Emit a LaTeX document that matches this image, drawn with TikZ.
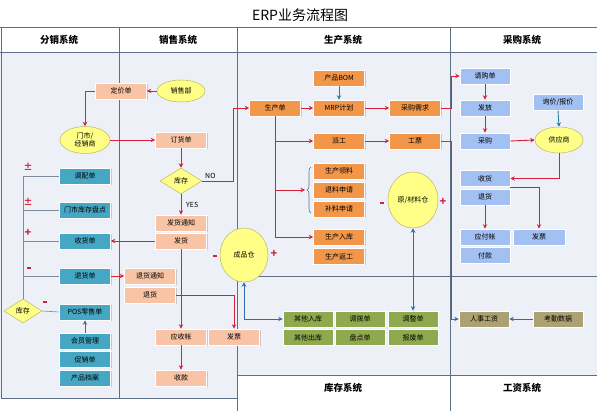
\documentclass[tikz,border=0pt]{standalone}
\usepackage{fontspec}
\setmainfont{Noto Sans CJK SC}
\usetikzlibrary{shapes.geometric,shadows,arrows.meta,decorations.pathreplacing}
\definecolor{sal}{HTML}{F9C4A6}
\definecolor{org}{HTML}{F2974A}
\definecolor{tea}{HTML}{45A7C4}
\definecolor{blu}{HTML}{A3C0F2}
\definecolor{grn}{HTML}{8FAA4E}
\definecolor{kha}{HTML}{ABA172}
\definecolor{yel}{HTML}{FFFF88}
\definecolor{yelb}{HTML}{B8B860}
\definecolor{bg}{HTML}{EDF0F7}
\definecolor{frame}{HTML}{5E6E84}
\definecolor{rln}{HTML}{D2223C}
\definecolor{bln}{HTML}{2D6DAD}
\definecolor{tln}{HTML}{2A7F9E}
\begin{document}
\begin{tikzpicture}[x=1pt,y=-1pt,
  box/.style={rectangle, minimum width=51pt, minimum height=16pt, inner sep=0pt,
    font=\fontsize{7}{8}\selectfont, draw=white, line width=0.6pt,
    drop shadow={opacity=0.35, shadow xshift=1pt, shadow yshift=-1pt}},
  salbox/.style={box, fill=sal},
  orgbox/.style={box, fill=org},
  teabox/.style={box, fill=tea},
  blubox/.style={box, fill=blu},
  grnbox/.style={box, fill=grn, minimum width=50pt},
  khabox/.style={box, fill=kha, minimum width=50pt},
  ell/.style={ellipse, fill=yel, draw=yelb, line width=0.5pt, inner sep=0pt,
    font=\fontsize{7}{8.5}\selectfont, align=center},
  dia/.style={diamond, fill=yel, draw=yelb, line width=0.5pt, inner sep=0pt,
    font=\fontsize{7}{8}\selectfont},
  ra/.style={draw=rln, line width=0.9pt, -{Stealth[length=4.5pt,width=4.5pt]}},
  rl/.style={draw=rln, line width=0.9pt},
  ba/.style={draw=bln, line width=0.9pt, -{Stealth[length=4.5pt,width=4.5pt]}},
  bb/.style={draw=bln, line width=0.9pt, {Stealth[length=4.5pt,width=4.5pt]}-{Stealth[length=4.5pt,width=4.5pt]}},
  gl/.style={draw=frame!80, line width=0.6pt},
  hdr/.style={font=\fontsize{9.5}{10}\selectfont\bfseries},
  sgn/.style={text=rln, font=\fontsize{9}{9}\selectfont\bfseries, inner sep=0pt},
  mns/.style={fill=rln, minimum width=4pt, minimum height=2pt, inner sep=0pt},
  lbl/.style={font=\fontsize{7}{8}\selectfont, inner sep=0pt}
]
\useasboundingbox (0,0) rectangle (597,411);
\fill[white] (0,0) rectangle (597,411);
% body backgrounds
\fill[bg] (0,52) rectangle (237,398);
\fill[bg] (237,52) rectangle (597,375);
% frame lines
\draw[frame, line width=1pt] (0,28) -- (597,28);
\draw[frame, line width=0.7pt] (0,52) -- (597,52);
\draw[frame, line width=0.7pt] (1,28) -- (1,398) -- (237,398);
\draw[frame, line width=0.7pt] (119,28) -- (119,398);
\draw[frame, line width=0.7pt] (237,28) -- (237,411);
\draw[frame, line width=0.7pt] (450,28) -- (450,411);
\draw[frame, line width=0.7pt] (237,276) -- (597,276);
\draw[frame, line width=0.7pt] (237,375) -- (597,375);
% title and headers
\node[font=\fontsize{14}{14}\selectfont] (title) at (300,15) {ERP业务流程图};
\node[hdr] (h1) at (59,40) {分销系统};
\node[hdr] (h2) at (178,40) {销售系统};
\node[hdr] (h3) at (343,40) {生产系统};
\node[hdr] (h4) at (522,40) {采购系统};
\node[hdr] (h5) at (343,388) {库存系统};
\node[hdr] (h6) at (522,388) {工资系统};

% ---- 分销系统 ----
\node[ell, minimum width=50pt, minimum height=27pt] (ms) at (85,140) {门市/\\经销商};
\node[teabox] (dpd) at (85,176) {调配单};
\node[teabox] (mkpd) at (85,210) {门市库存盘点};
\node[teabox] (shd) at (85,241) {收货单};
\node[teabox] (thd) at (85,276) {退货单};
\node[teabox] (pos) at (85,312) {POS零售单};
\node[teabox] (hy) at (85,341) {会员管理};
\node[teabox] (cx) at (85,359.5) {促销单};
\node[teabox] (cpda) at (85,378) {产品档案};
\node[dia, minimum width=38pt, minimum height=24pt] (kc1) at (23,311) {库存};
\coordinate (vtop) at (23,176);
\draw[gl] (vtop) -- (kc1.north);
\draw[gl] (vtop) -- (dpd.west);
\draw[gl] (23,210) -- (mkpd.west);
\draw[gl] (23,241) -- (shd.west);
\draw[gl] (23,276) -- (thd.west);
\draw[gl] (kc1.east) -- (pos.west);
\draw[ba] (hy.north) -- (pos.south);
\node[sgn] (s1) at (28,167) {±};
\node[sgn] (s2) at (28,202) {±};
\node[sgn, font=\fontsize{11}{11}\selectfont\bfseries] (s3) at (28,233) {+};
\node[mns] (s4) at (29,268) {};
\node[mns] (s5) at (45,302) {};

% ---- 销售系统 ----
\node[ell, minimum width=48pt, minimum height=22pt] (xsb) at (181,91) {销售部};
\node[salbox] (djd) at (121,91) {定价单};
\node[salbox] (dhd) at (181,140) {订货单};
\node[dia, minimum width=42pt, minimum height=26pt] (kc2) at (181,181) {库存};
\node[salbox] (fhtz) at (181,223) {发货通知};
\node[salbox] (fh) at (181,241) {发货};
\node[salbox] (thtz) at (150,276) {退货通知};
\node[salbox] (th) at (150,295) {退货};
\node[salbox] (ysz) at (181,337) {应收帐};
\node[salbox] (sk) at (181,378) {收款};
\node[salbox] (fp) at (234,337) {发票};
\draw[ra] (xsb.west) -- (djd.east);
\draw[ra] (djd.west) -| (ms.north);
\draw[ra] (ms.east) -- (dhd.west);
\draw[ra] (dhd.south) -- (kc2.north);
\draw[ra] (kc2.south) -- (fhtz.north);
\node[lbl, anchor=west] (yes) at (186,205) {YES};
\node[lbl, anchor=west] (no) at (205,176) {NO};
\draw[ra] (fh.west) -- (shd.east);
\draw[ra] (fh.south) -- (ysz.north);
\draw[ra] (thd.east) -- (thtz.west);
\draw[ra] (th.east) -| (fp.north);
\draw[ra] (ysz.south) -- (sk.north);

% ---- 成品仓 ----
\node[ell, minimum width=48pt, minimum height=54pt] (cpc) at (244,255) {成品仓};
\node[mns] (s6) at (215,256) {};
\node[sgn, font=\fontsize{11}{11}\selectfont\bfseries] (s7) at (274,254) {+};

% ---- 生产系统 ----
\node[orgbox] (bom) at (339,78) {产品BOM};
\node[orgbox] (mrp) at (339,108) {MRP计划};
\node[orgbox] (scd) at (275,108) {生产单};
\node[orgbox] (cgxq) at (415,108) {采购需求};
\node[orgbox] (pg) at (339,141) {派工};
\node[orgbox] (gp) at (415,141) {工票};
\node[orgbox] (scll) at (339,171) {生产领料};
\node[orgbox] (tlsq) at (339,190) {退料申请};
\node[orgbox] (blsq) at (339,209) {补料申请};
\node[orgbox] (scrk) at (339,237) {生产入库};
\node[orgbox] (scfg) at (339,256.5) {生产返工};
\node[ell, minimum width=50pt, minimum height=56pt] (ylc) at (413,200) {原/材料仓};
\node[mns] (s8) at (382,203) {};
\node[sgn, font=\fontsize{11}{11}\selectfont\bfseries] (s9) at (443,202) {+};

\draw[ra] (kc2.east) -- (233,181) |- (scd.west);
\draw[ra] (scd.east) -- (mrp.west);
\draw[draw=tln, line width=0.9pt, -{Stealth[length=4.5pt,width=4.5pt]}] (bom.south) -- (mrp.north);
\draw[ra] (mrp.east) -- (cgxq.west);
\draw[rl] (scd.south) -- (275,237);
\coordinate (br1) at (275,141);
\coordinate (br2) at (275,190);
\coordinate (br3) at (275,237);
\coordinate (brc) at (305,190);
\draw[ra] (br1) -- (pg.west);
\draw[ra] (br2) -- (brc);
\draw[ra] (br3) -- (scrk.west);
\draw[frame, line width=0.6pt, decorate, decoration={brace, amplitude=4pt}] (311,213) -- (311,167);
\draw[ra] (pg.east) -- (gp.west);

% ---- 采购系统 ----
\node[blubox, minimum width=50pt] (qgd) at (485,76) {请购单};
\node[blubox, minimum width=50pt] (ff) at (485,108) {发放};
\node[blubox, minimum width=50pt] (cg) at (485,141) {采购};
\node[blubox, minimum width=50pt] (xj) at (558,102) {询价/报价};
\node[ell, minimum width=48pt, minimum height=26pt] (gys) at (559,140) {供应商};
\node[blubox, minimum width=50pt] (sh) at (485,178.5) {收货};
\node[blubox, minimum width=50pt] (th2) at (485,197) {退货};
\node[blubox, minimum width=50pt] (yfz) at (485,237) {应付帐};
\node[blubox, minimum width=50pt] (fk) at (485,255.5) {付款};
\node[blubox, minimum width=52pt] (fp2) at (539,237) {发票};
\draw[ra] (cgxq.east) -- (451,108) |- (qgd.west);
\draw[ra] (qgd.south) -- (ff.north);
\draw[ra] (ff.south) -- (cg.north);
\draw[draw=tln, line width=0.9pt, -{Stealth[length=4.5pt,width=4.5pt]}] (xj.south) -- (gys.north);
\draw[ra] (cg.east) -- (gys.west);
\draw[ra] (gys.south) |- (sh.east);
\coordinate (shr) at (510,187.5);
\draw[ra] (shr) -| (fp2.north);
\draw[ra] (th2.south) -- (yfz.north);

% ---- 库存系统 ----
\node[grnbox] (qtrk) at (308,319) {其他入库};
\node[grnbox] (qtck) at (308,337.5) {其他出库};
\node[grnbox] (dbd) at (360,319) {调拨单};
\node[grnbox] (pdd) at (360,337.5) {盘点单};
\node[grnbox] (tzd) at (413,319) {调整单};
\node[grnbox] (bfd) at (413,337.5) {报废单};
\draw[bb] (cpc.south) |- (qtrk.west);
\draw[bb] (ylc.south) -- (tzd.north);

% ---- 工资系统 ----
\node[khabox] (rsgz) at (484,319) {人事工资};
\node[khabox] (kqsj) at (558,319) {考勤数据};
\draw[ba] (gp.east) -- (451,141) |- (rsgz.west);
\draw[ba] (kqsj.west) -- (rsgz.east);
\end{tikzpicture}
\end{document}
